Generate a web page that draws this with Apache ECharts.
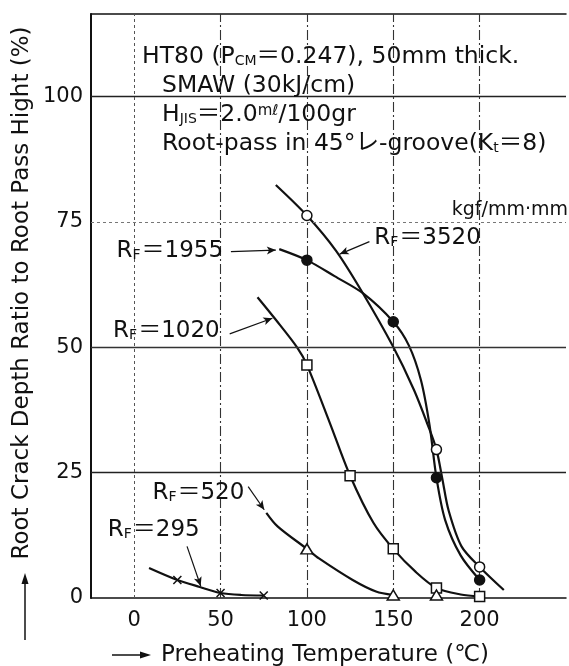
<!DOCTYPE html>
<html>
<head>
<meta charset="utf-8">
<script src="https://cdn.jsdelivr.net/npm/echarts@6/dist/echarts.min.js"></script>
<style>
  html, body { margin: 0; padding: 0; background: #fff; }
  #chart { width: 569px; height: 666px; }
</style>
</head>
<body>
<div id="chart"></div>
<script>
// Tick labels
const xTicks = [0, 50, 100, 150, 200];
const yTicks = [0, 25, 50, 75, 100];

// Grid lines
const hLines = [25, 50, 75, 100];
const vLines = [0, 50, 100, 150, 200];

// Test results: [preheating temperature (°C), crack depth ratio (%)]
const rf3520Points = [[100, 76.3], [175, 29.6], [200, 6.2]];
const rf1955Points = [[100, 67.4], [150, 55.1], [175, 24.0], [200, 3.6]];
const rf1020Points = [[100, 46.5], [125, 24.4], [150, 9.8], [175, 2.0], [200, 0.3]];
const rf520Points  = [[100, 9.8], [150, 0.6], [175, 0.6]];
const rf295Points  = [[25, 3.6], [50, 1.0], [75, 0.5]];

// Faired curves through the results
const rf3520Curve = [[82, 82.4], [100, 76.3], [117, 69.2], [132.4, 60.8], [149.5, 50.4], [162, 41.5],
  [170, 34.5], [175, 29.6], [178.5, 23.6], [182, 17.5], [189.5, 10.3], [200, 6.2], [214, 1.6]];
const rf1955Curve = [[84, 69.6], [100, 67.4], [116, 64.2], [132.4, 60.8], [150, 55.1], [159, 50.4],
  [166, 43.5], [171, 34.5], [175, 24.0], [180, 15.6], [189, 8.5], [200, 3.6]];
const rf1020Curve = [[71.4, 60.0], [82, 55.5], [94.3, 50.0], [100, 46.5], [113.3, 34.9], [125, 24.4],
  [138.5, 15.0], [150, 9.8], [163, 5.2], [175, 2.0], [189, 0.7], [200, 0.3]];
const rf520Curve  = [[76.5, 17.0], [83, 14.3], [100, 9.8], [107, 7.9], [126.5, 3.6], [140, 1.3], [150, 0.6]];
const rf295Curve  = [[8.6, 6.0], [25, 3.6], [38, 2.2], [50, 1.0], [62, 0.6], [75, 0.5]];

// Restraint intensity labels and their leader lines
const rfNames   = ['1955', '1020', '3520', '520', '295'];
const rfAnchors = [[51.5, 69.2], [49.5, 53.2], [139, 71.8], [63.8, 20.9], [37.9, 13.6]];
const rfSides   = ['left', 'left', 'right', 'left', 'left'];
const leaders = [
  [[56, 69.1], [82, 69.4]],
  [[55.3, 52.7], [80, 55.8]],
  [[136.2, 71.1], [119, 68.6]],
  [[66, 22.2], [75.3, 17.6]],
  [[30.6, 10.3], [38.5, 2.4]]
];

const FONT = "'DejaVu Sans', 'Noto Sans CJK JP', sans-serif";
const INK = '#111';

const chart = echarts.init(document.getElementById('chart'), null, { renderer: 'canvas' });

function curve(data) {
  return {
    type: 'line', data, smooth: 0.3, symbol: 'none', silent: true,
    lineStyle: { color: INK, width: 2.2 }, z: 4
  };
}
function markers(data, symbol, size, fill) {
  return {
    type: 'scatter', data, symbol, symbolSize: size, silent: true,
    itemStyle: { color: fill, borderColor: INK, borderWidth: 1.5, opacity: 1 }, z: 6
  };
}

const rfRich = {
  r: { fontFamily: FONT, fontSize: 23, color: INK },
  f: { fontFamily: FONT, fontSize: 14, color: INK, verticalAlign: 'bottom', padding: [8, 1, 0, 0] },
  e: { fontFamily: FONT, fontSize: 23, color: INK },
  n: { fontFamily: FONT, fontSize: 23, color: INK }
};

const TS = 23.5;
const textRich = {
  a: { fontFamily: FONT, fontSize: TS, fill: INK },
  s: { fontFamily: FONT, fontSize: 14, fill: INK, verticalAlign: 'bottom', padding: [9, 0, 0, 0] },
  m: { fontFamily: FONT, fontSize: 15, fill: INK, verticalAlign: 'top', padding: [0, 0, 6, 0] }
};

const option = {
  animation: false,
  backgroundColor: '#fff',
  grid: { left: 91, top: 14, right: -3.5, bottom: 68 },
  xAxis: [{
    type: 'value', min: -25, max: 250, interval: 25,
    axisLine: { show: true, onZero: false, lineStyle: { color: INK, width: 1.5 } },
    axisTick: { show: false },
    splitLine: { show: false },
    axisLabel: {
      margin: 12, fontFamily: FONT, fontSize: 21, color: INK,
      formatter: v => xTicks.includes(v) ? String(v) : ''
    }
  }, {
    type: 'value', position: 'top', min: -25, max: 250,
    axisLine: { show: true, onZero: false, lineStyle: { color: INK, width: 1.5 } },
    axisTick: { show: false }, axisLabel: { show: false }, splitLine: { show: false }
  }],
  yAxis: {
    type: 'value', min: 0, max: 116.5, interval: 25,
    axisLine: { show: true, onZero: false, lineStyle: { color: INK, width: 2 } },
    axisTick: { show: false },
    splitLine: { show: false },
    axisLabel: {
      margin: 8, fontFamily: FONT, fontSize: 21, color: INK, showMaxLabel: false,
      formatter: v => yTicks.includes(v) ? String(v) : ''
    }
  },
  series: [
    {
      type: 'line', data: [], silent: true, z: 1,
      markLine: {
        silent: true, symbol: 'none', label: { show: false }, animation: false,
        data: [
          ...hLines.map(v => ({
            yAxis: v,
            lineStyle: v === 75
              ? { color: '#777', width: 1, type: [3, 3] }
              : { color: v === 50 ? '#333' : '#222', width: 1.3, type: 'solid' }
          })),
          ...vLines.map(v => ({
            xAxis: v,
            lineStyle: v === 0
              ? { color: '#555', width: 1, type: [3, 3] }
              : { color: '#333', width: 1.1, type: [10, 3, 2, 3] }
          }))
        ]
      }
    },
    {
      type: 'line', data: [], silent: true, z: 5,
      markLine: {
        silent: true, symbol: ['none', 'arrow'], symbolSize: [6, 9], label: { show: false }, animation: false,
        lineStyle: { color: INK, width: 1.2, type: 'solid' },
        data: leaders.map(([a, b]) => [{ coord: a }, { coord: b }])
      }
    },
    curve(rf3520Curve), curve(rf1955Curve), curve(rf1020Curve), curve(rf520Curve), curve(rf295Curve),
    markers(rf3520Points, 'circle', 10, '#fff'),
    markers(rf1955Points, 'circle', 10, INK),
    markers(rf1020Points, 'rect', 10, '#fff'),
    markers(rf520Points, 'triangle', [12, 10], '#fff'),
    markers(rf295Points, 'path://M0,0L10,10M10,0L0,10', 8, 'none'),
    {
      type: 'scatter', silent: true, symbolSize: 0, z: 7,
      itemStyle: { opacity: 1 },
      data: rfNames.map((n, i) => ({
        value: rfAnchors[i], name: n,
        label: { show: true, position: rfSides[i], distance: 0, rich: rfRich, color: INK,
          formatter: '{r|R}{f|F}{e|＝}{n|' + n + '}' }
      }))
    }
  ],
  graphic: [
    { type: 'rect', z: 3, shape: { x: 128, y: 44, width: 222, height: 116 }, style: { fill: '#fff' } },
    { type: 'text', z: 10, x: 142, y: 57, style: {
        text: '{a|HT80 (P}{s|CM}{a|＝0.247), 50mm thick.}', rich: textRich,
        verticalAlign: 'middle', font: TS + 'px ' + FONT } },
    { type: 'text', z: 10, x: 162, y: 86, style: {
        text: '{a|SMAW (30kJ/cm)}', rich: textRich, verticalAlign: 'middle', font: TS + 'px ' + FONT } },
    { type: 'text', z: 10, x: 162, y: 115, style: {
        text: '{a|H}{s|JIS}{a|＝2.0}{m|mℓ}{a|/100gr}', rich: textRich,
        verticalAlign: 'middle', font: TS + 'px ' + FONT } },
    { type: 'text', z: 10, x: 162, y: 144, style: {
        text: '{a|Root-pass in 45°レ-groove(K}{s|t}{a|＝8)}', rich: textRich,
        verticalAlign: 'middle', font: TS + 'px ' + FONT } },
    { type: 'text', z: 10, x: 568, y: 210, style: {
        text: 'kgf/mm·mm', fill: INK, font: '19px ' + FONT, align: 'right', verticalAlign: 'middle' } },
    // axis titles
    { type: 'text', z: 10, x: 22.5, y: 293, rotation: Math.PI / 2, style: {
        text: 'Root Crack Depth Ratio to Root Pass Hight (%)', fill: INK,
        font: '23px ' + FONT, align: 'center', verticalAlign: 'middle' } },
    { type: 'line', z: 10, shape: { x1: 25, y1: 640, x2: 25, y2: 580 }, style: { stroke: INK, lineWidth: 1.5 } },
    { type: 'polygon', z: 10, shape: { points: [[25, 573], [21.5, 584], [28.5, 584]] }, style: { fill: INK } },
    { type: 'text', z: 10, x: 161, y: 655, style: {
        text: 'Preheating Temperature (℃)', fill: INK,
        font: '23px ' + FONT, align: 'left', verticalAlign: 'middle' } },
    { type: 'line', z: 10, shape: { x1: 112, y1: 655, x2: 143, y2: 655 }, style: { stroke: INK, lineWidth: 1.5 } },
    { type: 'polygon', z: 10, shape: { points: [[151, 655], [140, 651.5], [140, 658.5]] }, style: { fill: INK } }
  ]
};

chart.setOption(option);
</script>
</body>
</html>
